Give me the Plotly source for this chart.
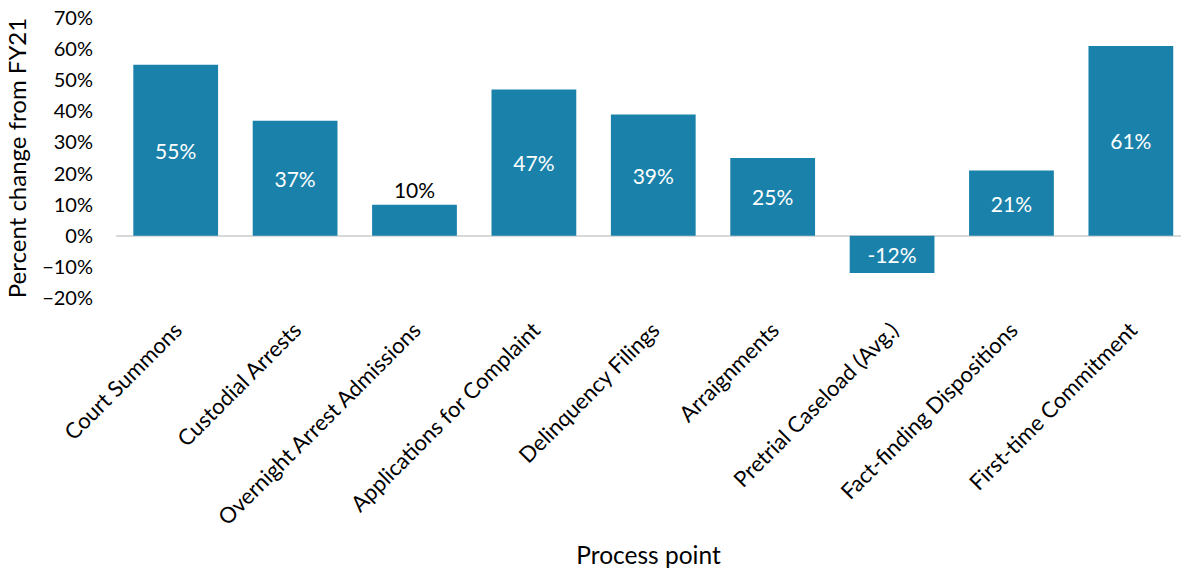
import plotly.graph_objects as go

# Process points and percent change from FY21
categories = [
    "Court Summons",
    "Custodial Arrests",
    "Overnight Arrest Admissions",
    "Applications for Complaint",
    "Delinquency Filings",
    "Arraignments",
    "Pretrial Caseload (Avg.)",
    "Fact-finding Dispositions",
    "First-time Commitment",
]
pct_change = [0.55, 0.37, 0.10, 0.47, 0.39, 0.25, -0.12, 0.21, 0.61]

y_ticks = [-0.2, -0.1, 0.0, 0.1, 0.2, 0.3, 0.4, 0.5, 0.6, 0.7]

FONT = "Lato, Calibri, Carlito, sans-serif"
BAR = "#1a82aa"

labels = [f"{v:.0%}" for v in pct_change]
positions = ["outside" if 0 <= v < 0.15 else "inside" for v in pct_change]
text_colors = ["#000000" if p == "outside" else "#ffffff" for p in positions]

fig = go.Figure(
    go.Bar(
        x=categories,
        y=pct_change,
        width=0.71,
        marker=dict(color=BAR, line=dict(width=0)),
        text=labels,
        textposition=positions,
        insidetextanchor="middle",
        textfont=dict(family=FONT, size=21, color=text_colors),
        cliponaxis=False,
        hoverinfo="skip",
    )
)

fig.update_layout(
    width=1181,
    height=571,
    margin=dict(l=116, r=0, t=18, b=273),
    paper_bgcolor="white",
    plot_bgcolor="white",
    font=dict(family=FONT, size=20, color="#000000"),
    showlegend=False,
    uniformtext=dict(mode=False),
)

fig.update_xaxes(
    range=[-0.5, 8.42],
    tickangle=-45,
    tickfont=dict(size=22),
    showgrid=False,
    showline=False,
    ticks="",
    ticklabelstandoff=14,
    title=dict(text="Process point", font=dict(size=24.5), standoff=17),
)

fig.update_yaxes(
    range=[-0.2, 0.7],
    tickvals=y_ticks,
    tickformat=".0%",
    tickfont=dict(size=20),
    showgrid=False,
    showline=False,
    ticks="",
    zeroline=True,
    zerolinecolor="#d9d9d9",
    zerolinewidth=2,
    ticklabelstandoff=22,
    title=dict(text="Percent change from FY21", font=dict(size=24), standoff=8),
)

fig.write_html("out.html")
